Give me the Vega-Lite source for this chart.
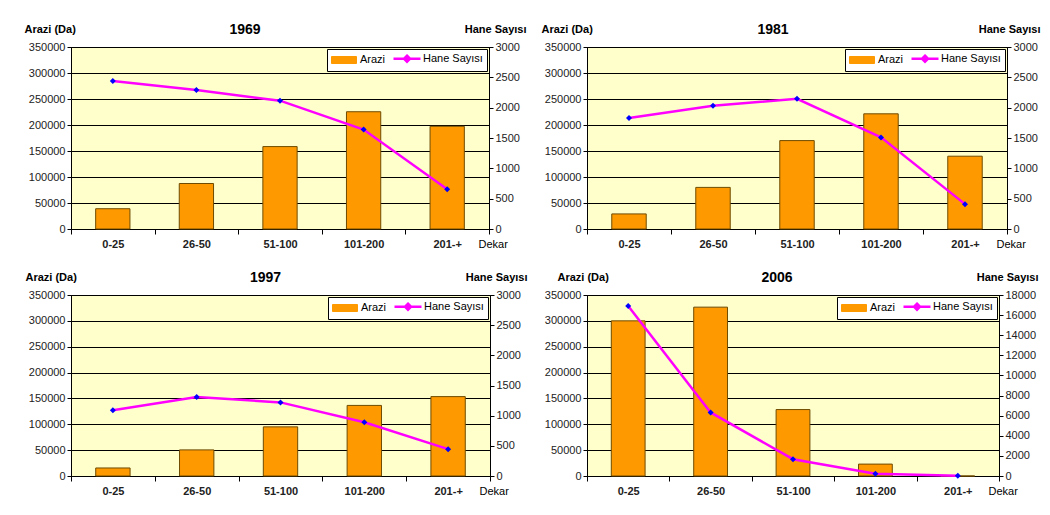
{
  "$schema": "https://vega.github.io/schema/vega-lite/v6.json",
  "background": "#ffffff",
  "padding": {"left": 23, "top": 22, "right": 5, "bottom": 5},
  "data": {"values": [
    {"year": 1969, "cat": "0-25", "arazi": 39000, "hane": 2440},
    {"year": 1969, "cat": "26-50", "arazi": 87500, "hane": 2290},
    {"year": 1969, "cat": "51-100", "arazi": 158500, "hane": 2115},
    {"year": 1969, "cat": "101-200", "arazi": 225500, "hane": 1640},
    {"year": 1969, "cat": "201-+", "arazi": 197500, "hane": 655},
    {"year": 1981, "cat": "0-25", "arazi": 29000, "hane": 1830},
    {"year": 1981, "cat": "26-50", "arazi": 80000, "hane": 2030},
    {"year": 1981, "cat": "51-100", "arazi": 170000, "hane": 2145},
    {"year": 1981, "cat": "101-200", "arazi": 221500, "hane": 1510},
    {"year": 1981, "cat": "201-+", "arazi": 140000, "hane": 410},
    {"year": 1997, "cat": "0-25", "arazi": 15500, "hane": 1090},
    {"year": 1997, "cat": "26-50", "arazi": 50500, "hane": 1310},
    {"year": 1997, "cat": "51-100", "arazi": 95000, "hane": 1220},
    {"year": 1997, "cat": "101-200", "arazi": 136500, "hane": 890},
    {"year": 1997, "cat": "201-+", "arazi": 153500, "hane": 445},
    {"year": 2006, "cat": "0-25", "arazi": 300000, "hane": 16900},
    {"year": 2006, "cat": "26-50", "arazi": 326500, "hane": 6320},
    {"year": 2006, "cat": "51-100", "arazi": 128500, "hane": 1670},
    {"year": 2006, "cat": "101-200", "arazi": 23000, "hane": 230},
    {"year": 2006, "cat": "201-+", "arazi": 0, "hane": 20}
  ]},
  "spacing": 20,
  "resolve": {"scale": {"color": "independent"}, "legend": {"color": "independent"}},
  "vconcat": [
    {
      "spacing": 13,
      "resolve": {"scale": {"color": "independent"}, "legend": {"color": "independent"}},
      "hconcat": [
        {
          "title": {"text": "1969", "dx": -35},
          "width": 418, "height": 182,
          "transform": [{"filter": "datum.year == 1969"}],
          "encoding": {"x": {"field": "cat", "type": "nominal", "sort": null, "scale": {"paddingInner": 0, "paddingOuter": 0}, "axis": {"title": "Dekar", "titleX": 407}}},
          "layer": [
            {"mark": {"type": "bar", "width": {"band": 0.41}, "stroke": "#6E4B00", "strokeWidth": 1},
             "encoding": {
               "y": {"field": "arazi", "type": "quantitative", "scale": {"domain": [0, 350000]}, "axis": {"orient": "left", "title": "Arazi (Da)", "titleX": -47, "values": [0, 50000, 100000, 150000, 200000, 250000, 300000, 350000]}},
               "color": {"datum": "Arazi", "type": "nominal", "scale": {"domain": ["Arazi", "Hane Sayısı"], "range": ["#FF9900", "#FF00FF"]},
                 "legend": {"encode": {"symbols": {"update": {"x": {"value": 13}, "shape": {"signal": "datum.value === 'Arazi' ? 'M-2.5,-0.7H2.5V0.7H-2.5Z' : 'M-2.7,0H2.7M0,-0.6L0.6,0L0,0.6L-0.6,0Z'"}, "fill": {"signal": "datum.value === 'Arazi' ? '#FF9900' : '#0000FF'"}, "stroke": {"signal": "datum.value === 'Arazi' ? '#6E4B00' : '#FF00FF'"}, "strokeWidth": {"signal": "datum.value === 'Arazi' ? 1 : 2.5"}, "opacity": {"value": 1}, "fillOpacity": {"value": 1}, "strokeOpacity": {"value": 1}}}, "labels": {"update": {"x": {"value": 29}}}}}}
             }},
            {"encoding": {"y": {"field": "hane", "type": "quantitative", "scale": {"domain": [0, 3000]}, "axis": {"orient": "right", "title": "Hane Sayısı", "titleX": 37, "values": [0, 500, 1000, 1500, 2000, 2500, 3000]}}},
             "layer": [
               {"mark": {"type": "line", "strokeWidth": 2.5}, "encoding": {"color": {"datum": "Hane Sayısı", "type": "nominal",
                 "legend": {"encode": {"symbols": {"update": {"x": {"value": 13}, "shape": {"signal": "datum.value === 'Arazi' ? 'M-2.5,-0.7H2.5V0.7H-2.5Z' : 'M-2.7,0H2.7M0,-0.6L0.6,0L0,0.6L-0.6,0Z'"}, "fill": {"signal": "datum.value === 'Arazi' ? '#FF9900' : '#0000FF'"}, "stroke": {"signal": "datum.value === 'Arazi' ? '#6E4B00' : '#FF00FF'"}, "strokeWidth": {"signal": "datum.value === 'Arazi' ? 1 : 2.5"}, "opacity": {"value": 1}, "fillOpacity": {"value": 1}, "strokeOpacity": {"value": 1}}}, "labels": {"update": {"x": {"value": 29}}}}}}}},
               {"mark": {"type": "point", "shape": "diamond", "filled": true, "color": "#0000FF", "size": 36, "opacity": 1}}
             ]}
          ],
          "resolve": {"scale": {"y": "independent"}}
        },
        {
          "title": {"text": "1981", "dx": -24},
          "width": 420, "height": 182,
          "transform": [{"filter": "datum.year == 1981"}],
          "encoding": {"x": {"field": "cat", "type": "nominal", "sort": null, "scale": {"paddingInner": 0, "paddingOuter": 0}, "axis": {"title": "Dekar", "titleX": 409}}},
          "layer": [
            {"mark": {"type": "bar", "width": {"band": 0.41}, "stroke": "#6E4B00", "strokeWidth": 1},
             "encoding": {
               "y": {"field": "arazi", "type": "quantitative", "scale": {"domain": [0, 350000]}, "axis": {"orient": "left", "title": "Arazi (Da)", "titleX": -46, "values": [0, 50000, 100000, 150000, 200000, 250000, 300000, 350000]}},
               "color": {"datum": "Arazi", "type": "nominal", "scale": {"domain": ["Arazi", "Hane Sayısı"], "range": ["#FF9900", "#FF00FF"]},
                 "legend": {"encode": {"symbols": {"update": {"x": {"value": 13}, "shape": {"signal": "datum.value === 'Arazi' ? 'M-2.5,-0.7H2.5V0.7H-2.5Z' : 'M-2.7,0H2.7M0,-0.6L0.6,0L0,0.6L-0.6,0Z'"}, "fill": {"signal": "datum.value === 'Arazi' ? '#FF9900' : '#0000FF'"}, "stroke": {"signal": "datum.value === 'Arazi' ? '#6E4B00' : '#FF00FF'"}, "strokeWidth": {"signal": "datum.value === 'Arazi' ? 1 : 2.5"}, "opacity": {"value": 1}, "fillOpacity": {"value": 1}, "strokeOpacity": {"value": 1}}}, "labels": {"update": {"x": {"value": 29}}}}}}
             }},
            {"encoding": {"y": {"field": "hane", "type": "quantitative", "scale": {"domain": [0, 3000]}, "axis": {"orient": "right", "title": "Hane Sayısı", "titleX": 33, "values": [0, 500, 1000, 1500, 2000, 2500, 3000]}}},
             "layer": [
               {"mark": {"type": "line", "strokeWidth": 2.5}, "encoding": {"color": {"datum": "Hane Sayısı", "type": "nominal",
                 "legend": {"encode": {"symbols": {"update": {"x": {"value": 13}, "shape": {"signal": "datum.value === 'Arazi' ? 'M-2.5,-0.7H2.5V0.7H-2.5Z' : 'M-2.7,0H2.7M0,-0.6L0.6,0L0,0.6L-0.6,0Z'"}, "fill": {"signal": "datum.value === 'Arazi' ? '#FF9900' : '#0000FF'"}, "stroke": {"signal": "datum.value === 'Arazi' ? '#6E4B00' : '#FF00FF'"}, "strokeWidth": {"signal": "datum.value === 'Arazi' ? 1 : 2.5"}, "opacity": {"value": 1}, "fillOpacity": {"value": 1}, "strokeOpacity": {"value": 1}}}, "labels": {"update": {"x": {"value": 29}}}}}}}},
               {"mark": {"type": "point", "shape": "diamond", "filled": true, "color": "#0000FF", "size": 36, "opacity": 1}}
             ]}
          ],
          "resolve": {"scale": {"y": "independent"}}
        }
      ]
    },
    {
      "spacing": 15,
      "resolve": {"scale": {"color": "independent"}, "legend": {"color": "independent"}},
      "hconcat": [
        {
          "title": {"text": "1997", "dx": -15},
          "width": 419, "height": 181,
          "transform": [{"filter": "datum.year == 1997"}],
          "encoding": {"x": {"field": "cat", "type": "nominal", "sort": null, "scale": {"paddingInner": 0, "paddingOuter": 0}, "axis": {"title": "Dekar", "titleX": 408}}},
          "layer": [
            {"mark": {"type": "bar", "width": {"band": 0.41}, "stroke": "#6E4B00", "strokeWidth": 1},
             "encoding": {
               "y": {"field": "arazi", "type": "quantitative", "scale": {"domain": [0, 350000]}, "axis": {"orient": "left", "title": "Arazi (Da)", "titleX": -46, "values": [0, 50000, 100000, 150000, 200000, 250000, 300000, 350000]}},
               "color": {"datum": "Arazi", "type": "nominal", "scale": {"domain": ["Arazi", "Hane Sayısı"], "range": ["#FF9900", "#FF00FF"]},
                 "legend": {"encode": {"symbols": {"update": {"x": {"value": 13}, "shape": {"signal": "datum.value === 'Arazi' ? 'M-2.5,-0.7H2.5V0.7H-2.5Z' : 'M-2.7,0H2.7M0,-0.6L0.6,0L0,0.6L-0.6,0Z'"}, "fill": {"signal": "datum.value === 'Arazi' ? '#FF9900' : '#0000FF'"}, "stroke": {"signal": "datum.value === 'Arazi' ? '#6E4B00' : '#FF00FF'"}, "strokeWidth": {"signal": "datum.value === 'Arazi' ? 1 : 2.5"}, "opacity": {"value": 1}, "fillOpacity": {"value": 1}, "strokeOpacity": {"value": 1}}}, "labels": {"update": {"x": {"value": 29}}}}}}
             }},
            {"encoding": {"y": {"field": "hane", "type": "quantitative", "scale": {"domain": [0, 3000]}, "axis": {"orient": "right", "title": "Hane Sayısı", "titleX": 37, "values": [0, 500, 1000, 1500, 2000, 2500, 3000]}}},
             "layer": [
               {"mark": {"type": "line", "strokeWidth": 2.5}, "encoding": {"color": {"datum": "Hane Sayısı", "type": "nominal",
                 "legend": {"encode": {"symbols": {"update": {"x": {"value": 13}, "shape": {"signal": "datum.value === 'Arazi' ? 'M-2.5,-0.7H2.5V0.7H-2.5Z' : 'M-2.7,0H2.7M0,-0.6L0.6,0L0,0.6L-0.6,0Z'"}, "fill": {"signal": "datum.value === 'Arazi' ? '#FF9900' : '#0000FF'"}, "stroke": {"signal": "datum.value === 'Arazi' ? '#6E4B00' : '#FF00FF'"}, "strokeWidth": {"signal": "datum.value === 'Arazi' ? 1 : 2.5"}, "opacity": {"value": 1}, "fillOpacity": {"value": 1}, "strokeOpacity": {"value": 1}}}, "labels": {"update": {"x": {"value": 29}}}}}}}},
               {"mark": {"type": "point", "shape": "diamond", "filled": true, "color": "#0000FF", "size": 36, "opacity": 1}}
             ]}
          ],
          "resolve": {"scale": {"y": "independent"}}
        },
        {
          "title": {"text": "2006", "dx": -16},
          "width": 412, "height": 181,
          "transform": [{"filter": "datum.year == 2006"}],
          "encoding": {"x": {"field": "cat", "type": "nominal", "sort": null, "scale": {"paddingInner": 0, "paddingOuter": 0}, "axis": {"title": "Dekar", "titleX": 401}}},
          "layer": [
            {"mark": {"type": "bar", "width": {"band": 0.41}, "stroke": "#6E4B00", "strokeWidth": 1},
             "encoding": {
               "y": {"field": "arazi", "type": "quantitative", "scale": {"domain": [0, 350000]}, "axis": {"orient": "left", "title": "Arazi (Da)", "titleX": -30, "values": [0, 50000, 100000, 150000, 200000, 250000, 300000, 350000]}},
               "color": {"datum": "Arazi", "type": "nominal", "scale": {"domain": ["Arazi", "Hane Sayısı"], "range": ["#FF9900", "#FF00FF"]},
                 "legend": {"encode": {"symbols": {"update": {"x": {"value": 13}, "shape": {"signal": "datum.value === 'Arazi' ? 'M-2.5,-0.7H2.5V0.7H-2.5Z' : 'M-2.7,0H2.7M0,-0.6L0.6,0L0,0.6L-0.6,0Z'"}, "fill": {"signal": "datum.value === 'Arazi' ? '#FF9900' : '#0000FF'"}, "stroke": {"signal": "datum.value === 'Arazi' ? '#6E4B00' : '#FF00FF'"}, "strokeWidth": {"signal": "datum.value === 'Arazi' ? 1 : 2.5"}, "opacity": {"value": 1}, "fillOpacity": {"value": 1}, "strokeOpacity": {"value": 1}}}, "labels": {"update": {"x": {"value": 29}}}}}}
             }},
            {"encoding": {"y": {"field": "hane", "type": "quantitative", "scale": {"domain": [0, 18000]}, "axis": {"orient": "right", "title": "Hane Sayısı", "titleX": 39, "values": [0, 2000, 4000, 6000, 8000, 10000, 12000, 14000, 16000, 18000]}}},
             "layer": [
               {"mark": {"type": "line", "strokeWidth": 2.5}, "encoding": {"color": {"datum": "Hane Sayısı", "type": "nominal",
                 "legend": {"encode": {"symbols": {"update": {"x": {"value": 13}, "shape": {"signal": "datum.value === 'Arazi' ? 'M-2.5,-0.7H2.5V0.7H-2.5Z' : 'M-2.7,0H2.7M0,-0.6L0.6,0L0,0.6L-0.6,0Z'"}, "fill": {"signal": "datum.value === 'Arazi' ? '#FF9900' : '#0000FF'"}, "stroke": {"signal": "datum.value === 'Arazi' ? '#6E4B00' : '#FF00FF'"}, "strokeWidth": {"signal": "datum.value === 'Arazi' ? 1 : 2.5"}, "opacity": {"value": 1}, "fillOpacity": {"value": 1}, "strokeOpacity": {"value": 1}}}, "labels": {"update": {"x": {"value": 29}}}}}}}},
               {"mark": {"type": "point", "shape": "diamond", "filled": true, "color": "#0000FF", "size": 36, "opacity": 1}}
             ]}
          ],
          "resolve": {"scale": {"y": "independent"}}
        }
      ]
    }
  ],
  "config": {
    "font": "Liberation Sans",
    "view": {"fill": "#FFFFCC", "stroke": "#000000", "strokeWidth": 1},
    "title": {"fontSize": 14, "fontWeight": "bold", "color": "#000", "anchor": "middle", "frame": "group", "offset": -14},
    "axis": {"labelFont": "Liberation Sans", "titleFont": "Liberation Sans", "labelFontSize": 11, "titleFontSize": 11, "labelColor": "#222222", "titleColor": "#000", "domainColor": "#000", "tickColor": "#000", "domainWidth": 1, "tickWidth": 1},
    "axisX": {"labelAngle": 0, "labelFontWeight": "bold", "tickBand": "extent", "tickSize": 5, "labelPadding": 4, "grid": false, "titleFontWeight": "normal", "titleAlign": "left", "titleBaseline": "middle", "titleY": 15, "titleAnchor": "start"},
    "axisLeft": {"grid": true, "gridColor": "#000", "gridOpacity": 1, "gridWidth": 1, "tickSize": 4, "labelPadding": 2, "format": "d", "titleAngle": 0, "titleAlign": "left", "titleBaseline": "middle", "titleY": -18, "titleFontWeight": "bold"},
    "axisRight": {"grid": false, "tickSize": 4, "labelPadding": 2, "format": "d", "titleAngle": 0, "titleAlign": "right", "titleBaseline": "middle", "titleY": -18, "titleFontWeight": "bold"},
    "legend": {"orient": "top-right", "direction": "horizontal", "title": null, "offset": 2, "padding": 4, "strokeColor": "#000", "fillColor": "#ffffff", "symbolSize": 100, "labelFont": "Liberation Sans", "labelFontSize": 11, "labelColor": "#000", "labelOffset": 4, "columnPadding": 2, "cornerRadius": 0}
  }
}
